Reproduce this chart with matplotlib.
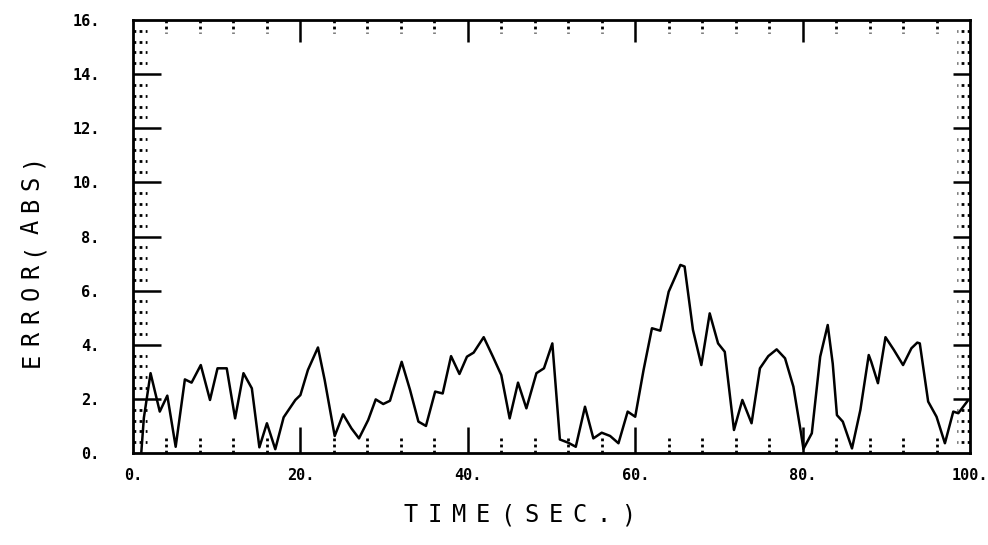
import numpy as np
import matplotlib
matplotlib.use("Agg")
import matplotlib.pyplot as plt

# =============================
# DATA
# =============================
time_sec = [
    1.0, 1.3, 2.1, 3.2, 4.1, 5.1, 6.2, 7.0, 8.1, 9.2,
    10.1, 11.2, 12.2, 13.2, 14.2, 15.1, 16.0, 17.0, 18.0, 19.4,
    20.0, 20.9, 22.1, 22.9, 24.1, 25.1, 26.1, 27.0, 28.1, 29.0,
    29.9, 30.7, 32.1, 33.1, 34.1, 35.0, 36.1, 37.0, 38.0, 39.0,
    39.9, 40.7, 41.9, 43.0, 44.0, 45.0, 46.0, 47.0, 48.2, 49.1,
    50.1, 51.0, 52.0, 52.9, 54.0, 55.0, 56.0, 57.0, 58.0, 59.1,
    60.0, 61.0, 62.0, 63.0, 64.0, 64.8, 65.4, 65.9, 66.9, 67.9,
    68.9, 69.9, 70.7, 71.8, 72.8, 73.9, 74.9, 75.9, 76.9, 77.9,
    78.9, 79.8, 80.1, 81.1, 82.1, 83.0, 83.6, 84.1, 84.8, 85.9,
    86.9, 87.9, 88.2, 89.0, 89.9, 90.9, 92.0, 93.0, 93.7, 94.0,
    95.0, 96.0, 97.0, 98.0, 98.6, 99.7,
]

error_abs = [
    0.05, 1.3, 2.95, 1.53, 2.12, 0.23, 2.72, 2.6, 3.25, 1.96,
    3.13, 3.13, 1.28, 2.95, 2.39, 0.21, 1.1, 0.14, 1.32, 1.96,
    2.14, 3.07, 3.9, 2.7, 0.63, 1.43, 0.91, 0.54, 1.22, 1.98,
    1.81, 1.93, 3.37, 2.33, 1.16, 1.0, 2.27, 2.2, 3.58, 2.92,
    3.56, 3.71, 4.28, 3.56, 2.88, 1.28, 2.6, 1.65, 2.95, 3.13,
    4.05, 0.5, 0.38, 0.23, 1.71, 0.54, 0.75, 0.63, 0.36, 1.53,
    1.34, 3.07, 4.61, 4.52, 5.96, 6.52, 6.95, 6.89, 4.55, 3.25,
    5.16, 4.05, 3.74, 0.85, 1.96, 1.1, 3.13, 3.58, 3.83, 3.5,
    2.45, 0.75, 0.15, 0.73, 3.56, 4.73, 3.3, 1.4, 1.16, 0.17,
    1.59, 3.62, 3.37, 2.58, 4.28, 3.81, 3.25, 3.87, 4.08, 4.05,
    1.9, 1.34, 0.36, 1.53, 1.47, 1.92,
]

x_ticks = [0, 20, 40, 60, 80, 100]
x_tick_labels = ["0.", "20.", "40.", "60.", "80.", "100."]
y_ticks = [0, 2, 4, 6, 8, 10, 12, 14, 16]
y_tick_labels = ["0.", "2.", "4.", "6.", "8.", "10.", "12.", "14.", "16."]

x_label = "TIME(SEC.)"
y_label = "ERROR(ABS)"

FONT = "DejaVu Sans Mono"
DOTTED = (0, (1.0, 1.2))


# =============================
# TICK HELPERS
# =============================
def draw_x_ticks(ax):
    xt = ax.get_xaxis_transform()
    minor = [v for v in np.arange(0, 101, 4) if v not in x_ticks]

    for v in x_ticks[1:-1]:
        # long solid ticks, bottom and top
        ax.plot([v, v], [0, 0.06], transform=xt, color="black", lw=1.8,
                clip_on=False, solid_capstyle="butt")
        ax.plot([v, v], [1, 0.95], transform=xt, color="black", lw=1.8,
                clip_on=False, solid_capstyle="butt")

    for v in minor:
        ax.plot([v, v], [0, 0.04], transform=xt, color="black", lw=2.0,
                ls=DOTTED, clip_on=False)
        ax.plot([v, v], [1, 0.97], transform=xt, color="black", lw=2.0,
                ls=DOTTED, clip_on=False)


def draw_y_ticks(ax):
    yt = ax.get_yaxis_transform()
    minor = [v for v in np.arange(0, 16.01, 0.4)
             if not np.isclose(v % 2, 0) and not np.isclose(v % 2, 2)]

    for v in y_ticks[1:-1]:
        ax.plot([0, 0.034], [v, v], transform=yt, color="black", lw=1.8,
                clip_on=False, solid_capstyle="butt")
        ax.plot([1, 0.98], [v, v], transform=yt, color="black", lw=1.8,
                clip_on=False, solid_capstyle="butt")

    for v in minor:
        ax.plot([0, 0.017], [v, v], transform=yt, color="black", lw=2.0,
                ls=DOTTED, clip_on=False)
        ax.plot([1, 0.984], [v, v], transform=yt, color="black", lw=2.0,
                ls=DOTTED, clip_on=False)


def spaced_text(fig, text, x0, x1, y, rotation=0, size=17):
    # old plotter font: wide letter spacing, one char at a time
    n = len(text)
    for k, ch in enumerate(text):
        f = (k + 0.5) / n
        if rotation == 0:
            fig.text(x0 + (x1 - x0) * f, y, ch, ha="center", va="center",
                     fontsize=size, family=FONT)
        else:
            fig.text(y, x0 + (x1 - x0) * f, ch, ha="center", va="center",
                     fontsize=size, family=FONT, rotation=90)


# =============================
# MAIN PLOT
# =============================
def main():
    fig = plt.figure(figsize=(9.88, 5.45), dpi=100)
    ax = fig.add_axes([0.1346, 0.1688, 0.8472, 0.7945])

    ax.plot(time_sec, error_abs, color="black", lw=1.8)

    ax.set_xlim(0, 100)
    ax.set_ylim(0, 16)

    for s in ax.spines.values():
        s.set_linewidth(2.0)

    ax.set_xticks(x_ticks)
    ax.set_xticklabels(x_tick_labels, family=FONT, fontweight="bold",
                       fontsize=11)
    ax.set_yticks(y_ticks)
    ax.set_yticklabels(y_tick_labels, family=FONT, fontweight="bold",
                       fontsize=11)
    ax.tick_params(axis="both", length=0)
    ax.tick_params(axis="x", pad=11)
    ax.tick_params(axis="y", pad=24)

    draw_x_ticks(ax)
    draw_y_ticks(ax)

    # axis titles
    spaced_text(fig, x_label, 0.403, 0.648, 0.055)
    spaced_text(fig, y_label, 0.32, 0.725, 0.032, rotation=90)

    fig.savefig("out.png", dpi=100)


if __name__ == "__main__":
    main()
